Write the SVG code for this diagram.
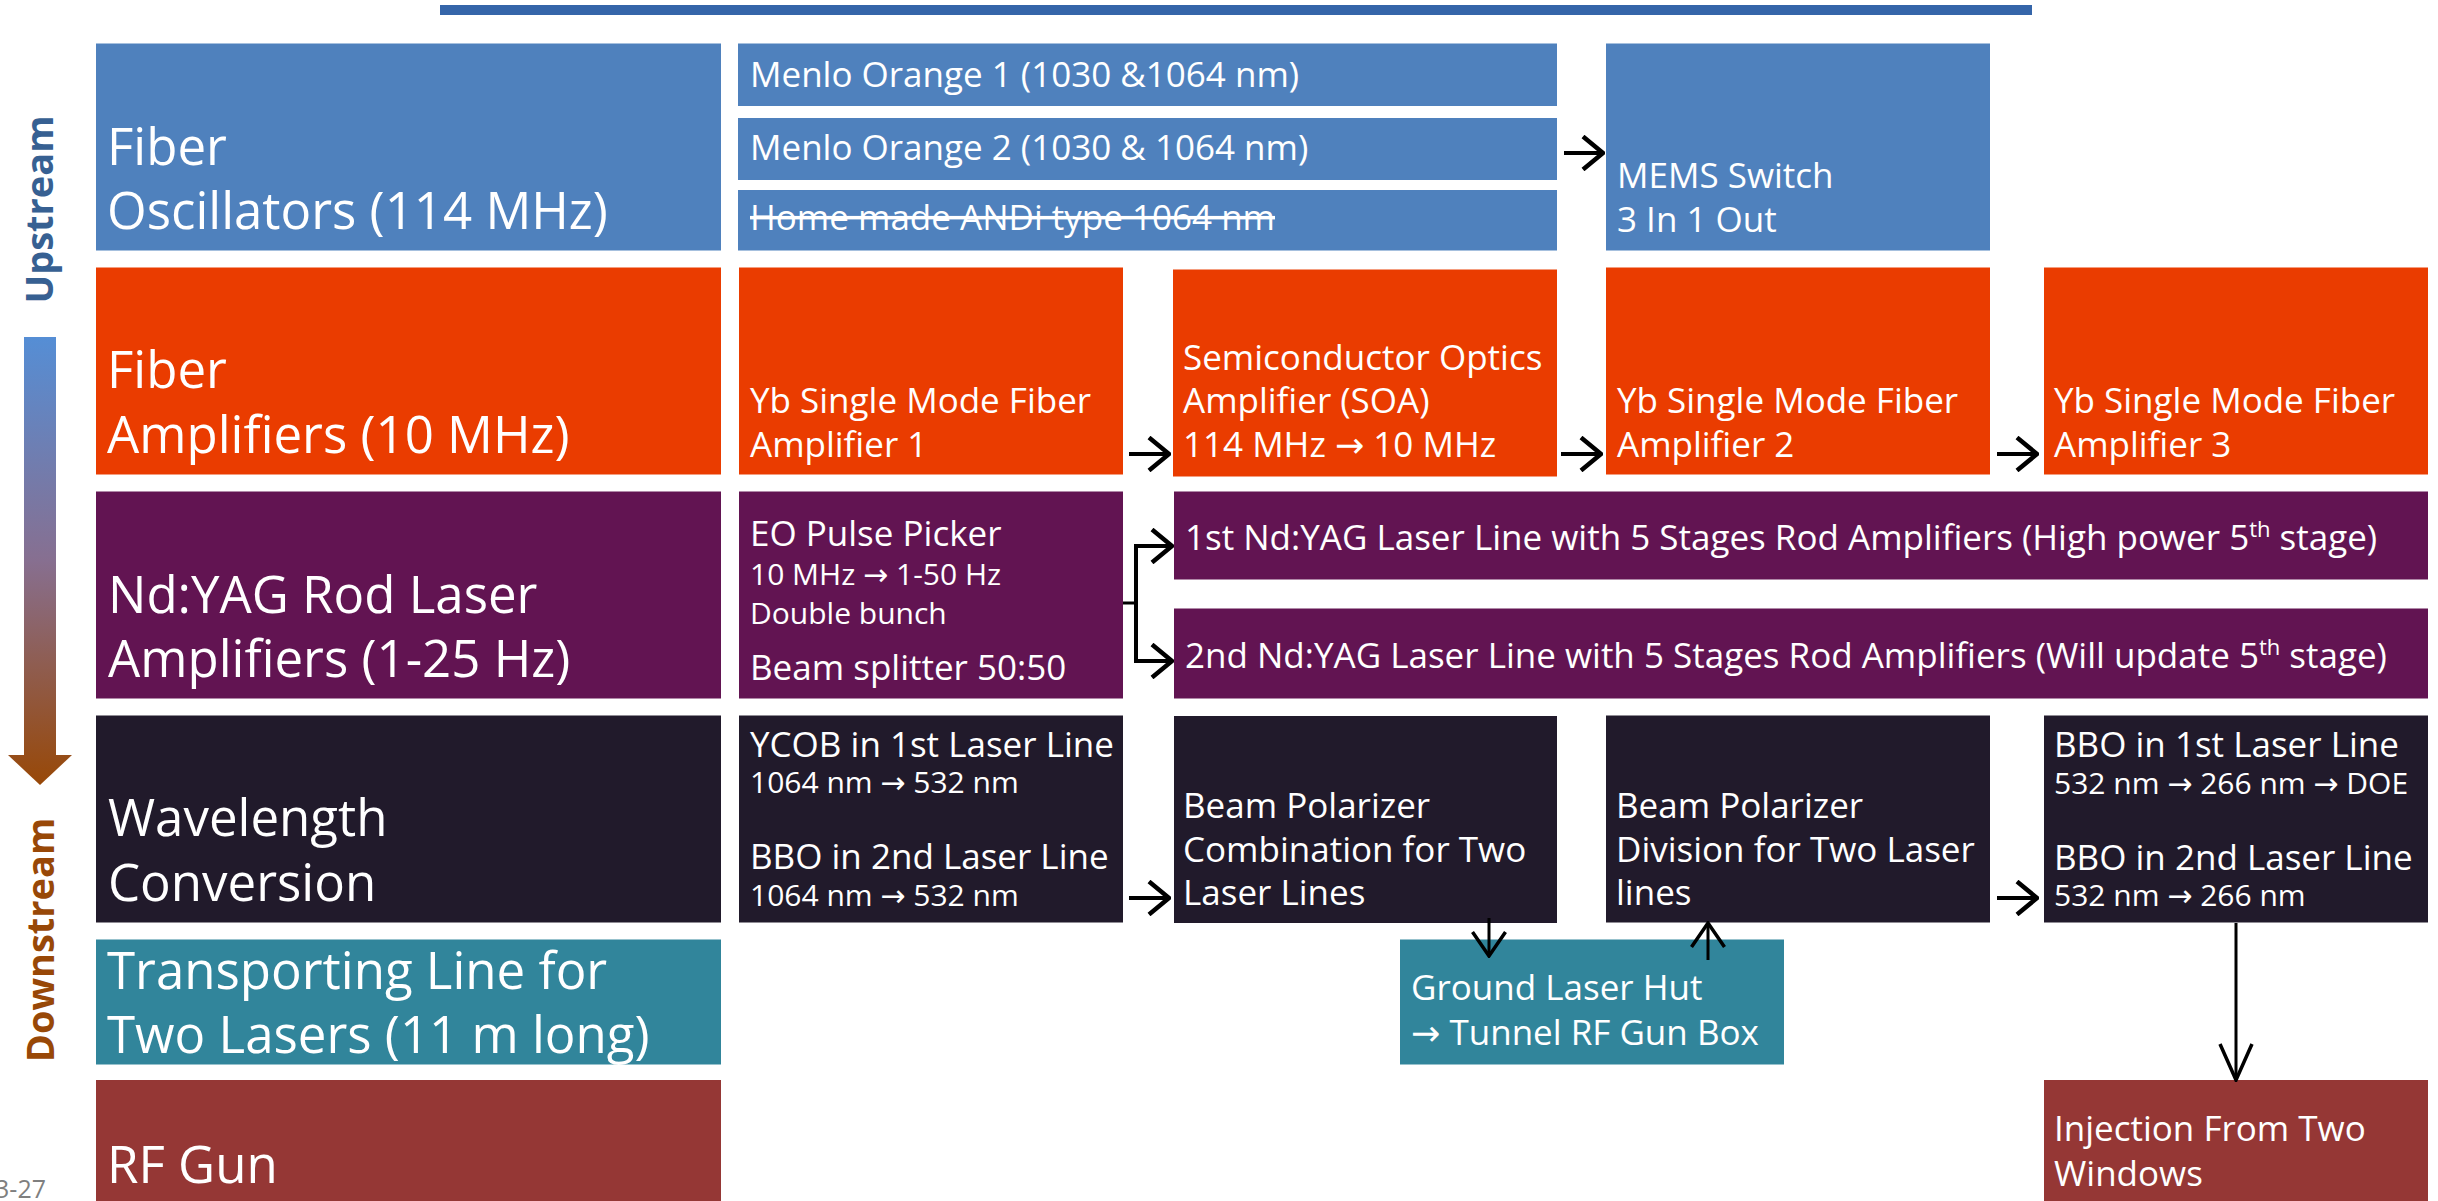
<svg xmlns="http://www.w3.org/2000/svg" width="2438" height="1201" viewBox="0 0 2438 1201">
<defs>
<style>
text{font-family:"Open Sans","DejaVu Sans",sans-serif;fill:#fff}
.lbl{font-size:51px}
.t{font-size:35px}
.s{font-size:30px}
.side{font-size:38px;font-weight:bold}
.blue{fill:#4f81bd}
.orange{fill:#ea3c00}
.purple{fill:#621452}
.dark{fill:#211a2b}
.teal{fill:#31859b}
.red{fill:#953735}
.c{fill:none;stroke:#000;stroke-width:4}
.cv{fill:none;stroke:#000;stroke-width:3}
</style>
<linearGradient id="flow" x1="0" y1="337" x2="0" y2="785" gradientUnits="userSpaceOnUse">
<stop offset="0" stop-color="#558ed5"/>
<stop offset="0.5" stop-color="#876f90"/>
<stop offset="1" stop-color="#984807"/>
</linearGradient>
<marker id="ah" viewBox="0 0 24 36" refX="22" refY="18" markerWidth="24" markerHeight="36" markerUnits="userSpaceOnUse" orient="auto">
<path d="M2,1.5 L22,18 L2,34.5" fill="none" stroke="#000" stroke-width="4.5"/>
</marker>
<marker id="ahv" viewBox="0 0 28 36" refX="26" refY="18" markerWidth="28" markerHeight="36" markerUnits="userSpaceOnUse" orient="auto">
<path d="M2,1.5 L26,18 L2,34.5" fill="none" stroke="#000" stroke-width="3.5"/>
</marker>
<marker id="ahl" viewBox="0 0 40 36" refX="38" refY="18" markerWidth="40" markerHeight="36" markerUnits="userSpaceOnUse" orient="auto">
<path d="M2,2 L38,18 L2,34" fill="none" stroke="#000" stroke-width="3.5"/>
</marker>
</defs>

<rect id="top-bar" x="440" y="5" width="1592" height="10" fill="#3565a9"/>

<g id="flow-indicator">
<text class="side" style="fill:#376092" text-anchor="middle" transform="translate(53,209.5) rotate(-90)">Upstream</text>
<rect x="24" y="337" width="32" height="419" fill="url(#flow)"/>
<polygon points="8,755 72,755 40,785" fill="url(#flow)"/>
<text class="side" style="fill:#984807" text-anchor="middle" transform="translate(54,940) rotate(-90)">Downstream</text>
</g>

<text id="page-number" x="46" y="1198" font-size="25" style="fill:#7f7f7f" text-anchor="end">3-27</text>

<g id="row-fiber-oscillators">
<rect class="blue" x="96" y="43.5" width="625" height="207"/>
<text class="lbl" x="107" y="165">Fiber</text>
<text class="lbl" x="107" y="229">Oscillators (114 MHz)</text>
</g>
<g id="menlo-orange-1">
<rect class="blue" x="738" y="43.5" width="819" height="62.5"/>
<text class="t" x="750" y="87">Menlo Orange 1 (1030 &amp;1064 nm)</text>
</g>
<g id="menlo-orange-2">
<rect class="blue" x="738" y="118" width="819" height="62"/>
<text class="t" x="750" y="160">Menlo Orange 2 (1030 &amp; 1064 nm)</text>
</g>
<g id="home-made-andi">
<rect class="blue" x="738" y="190" width="819" height="60.5"/>
<text class="t" x="750" y="230" text-decoration="line-through">Home made ANDi type 1064 nm</text>
</g>
<g id="mems-switch">
<rect class="blue" x="1606" y="43.5" width="384" height="207"/>
<text class="t" x="1617" y="188">MEMS Switch</text>
<text class="t" x="1617" y="232">3 In 1 Out</text>
</g>

<g id="row-fiber-amplifiers">
<rect class="orange" x="96" y="267.5" width="625" height="207"/>
<text class="lbl" x="107" y="388">Fiber</text>
<text class="lbl" x="107" y="453">Amplifiers (10 MHz)</text>
</g>
<g id="yb-amp-1">
<rect class="orange" x="739" y="267.5" width="384" height="207"/>
<text class="t" x="750" y="413">Yb Single Mode Fiber</text>
<text class="t" x="750" y="457">Amplifier 1</text>
</g>
<g id="soa">
<rect class="orange" x="1173" y="269.5" width="384" height="207"/>
<text class="t" x="1183" y="370">Semiconductor Optics</text>
<text class="t" x="1183" y="413">Amplifier (SOA)</text>
<text class="t" x="1183" y="457">114 MHz → 10 MHz</text>
</g>
<g id="yb-amp-2">
<rect class="orange" x="1606" y="267.5" width="384" height="207"/>
<text class="t" x="1617" y="413">Yb Single Mode Fiber</text>
<text class="t" x="1617" y="457">Amplifier 2</text>
</g>
<g id="yb-amp-3">
<rect class="orange" x="2044" y="267.5" width="384" height="207"/>
<text class="t" x="2054" y="413">Yb Single Mode Fiber</text>
<text class="t" x="2054" y="457">Amplifier 3</text>
</g>

<g id="row-ndyag">
<rect class="purple" x="96" y="491.5" width="625" height="207"/>
<text class="lbl" x="108" y="613">Nd:YAG Rod Laser</text>
<text class="lbl" x="108" y="677">Amplifiers (1-25 Hz)</text>
</g>
<g id="eo-pulse-picker">
<rect class="purple" x="739" y="491.5" width="384" height="207"/>
<text class="t" x="750" y="546">EO Pulse Picker</text>
<text class="s" x="750" y="585">10 MHz → 1-50 Hz</text>
<text class="s" x="750" y="624">Double bunch</text>
<text class="t" x="750" y="680">Beam splitter 50:50</text>
</g>
<g id="ndyag-line-1">
<rect class="purple" x="1174" y="491.5" width="1254" height="88"/>
<text class="t" x="1185" y="550" font-size="35.5">1st Nd:YAG Laser Line with 5 Stages Rod Amplifiers (High power 5<tspan font-size="22" dy="-13">th</tspan><tspan dy="13"> stage)</tspan></text>
</g>
<g id="ndyag-line-2">
<rect class="purple" x="1174" y="608.5" width="1254" height="90"/>
<text class="t" x="1185" y="668" font-size="35.5">2nd Nd:YAG Laser Line with 5 Stages Rod Amplifiers (Will update 5<tspan font-size="22" dy="-13">th</tspan><tspan dy="13"> stage)</tspan></text>
</g>

<g id="row-wavelength">
<rect class="dark" x="96" y="715.5" width="625" height="207"/>
<text class="lbl" x="108" y="836">Wavelength</text>
<text class="lbl" x="108" y="901">Conversion</text>
</g>
<g id="ycob-bbo">
<rect class="dark" x="739" y="715.5" width="384" height="207"/>
<text class="t" x="750" y="757">YCOB in 1st Laser Line</text>
<text class="s" x="750" y="793">1064 nm → 532 nm</text>
<text class="t" x="750" y="869">BBO in 2nd Laser Line</text>
<text class="s" x="750" y="906">1064 nm → 532 nm</text>
</g>
<g id="polarizer-combination">
<rect class="dark" x="1174" y="716" width="383" height="207"/>
<text class="t" x="1183" y="818">Beam Polarizer</text>
<text class="t" x="1183" y="862">Combination for Two</text>
<text class="t" x="1183" y="905">Laser Lines</text>
</g>
<g id="polarizer-division">
<rect class="dark" x="1606" y="715.5" width="384" height="207"/>
<text class="t" x="1616" y="818">Beam Polarizer</text>
<text class="t" x="1616" y="862">Division for Two Laser</text>
<text class="t" x="1616" y="905">lines</text>
</g>
<g id="bbo-266">
<rect class="dark" x="2044" y="715.5" width="384" height="207"/>
<text class="t" x="2054" y="757">BBO in 1st Laser Line</text>
<text class="s" x="2054" y="794">532 nm → 266 nm → DOE</text>
<text class="t" x="2054" y="870">BBO in 2nd Laser Line</text>
<text class="s" x="2054" y="906">532 nm → 266 nm</text>
</g>

<g id="row-transport">
<rect class="teal" x="96" y="939.5" width="625" height="125"/>
<text class="lbl" x="107" y="989">Transporting Line for</text>
<text class="lbl" x="107" y="1053">Two Lasers (11 m long)</text>
</g>
<g id="ground-laser-hut">
<rect class="teal" x="1400" y="939.5" width="384" height="125"/>
<text class="t" x="1411" y="1000">Ground Laser Hut</text>
<text class="t" x="1411" y="1045">→ Tunnel RF Gun Box</text>
</g>

<g id="row-rf-gun">
<rect class="red" x="96" y="1080" width="625" height="130"/>
<text class="lbl" x="107" y="1183">RF Gun</text>
</g>
<g id="injection">
<rect class="red" x="2044" y="1080" width="384" height="130"/>
<text class="t" x="2054" y="1141">Injection From Two</text>
<text class="t" x="2054" y="1186">Windows</text>
</g>

<g id="connectors">
<path class="c" d="M1564,153 H1603" marker-end="url(#ah)"/>
<path class="c" d="M1129,454 H1169" marker-end="url(#ah)"/>
<path class="c" d="M1561,454 H1601" marker-end="url(#ah)"/>
<path class="c" d="M1997,454 H2037" marker-end="url(#ah)"/>
<path class="cv" d="M1123,603 H1136"/>
<path class="c" d="M1136,603 V546 H1172" marker-end="url(#ah)"/>
<path class="c" d="M1136,603 V661 H1172" marker-end="url(#ah)"/>
<path class="c" d="M1129,898 H1169" marker-end="url(#ah)"/>
<path class="c" d="M1997,898 H2037" marker-end="url(#ah)"/>
<path class="cv" d="M1489,918 V956" marker-end="url(#ahv)"/>
<path class="cv" d="M1708,960 V923" marker-end="url(#ahv)"/>
<path class="cv" d="M2236,923 V1080" marker-end="url(#ahl)"/>
</g>
</svg>
